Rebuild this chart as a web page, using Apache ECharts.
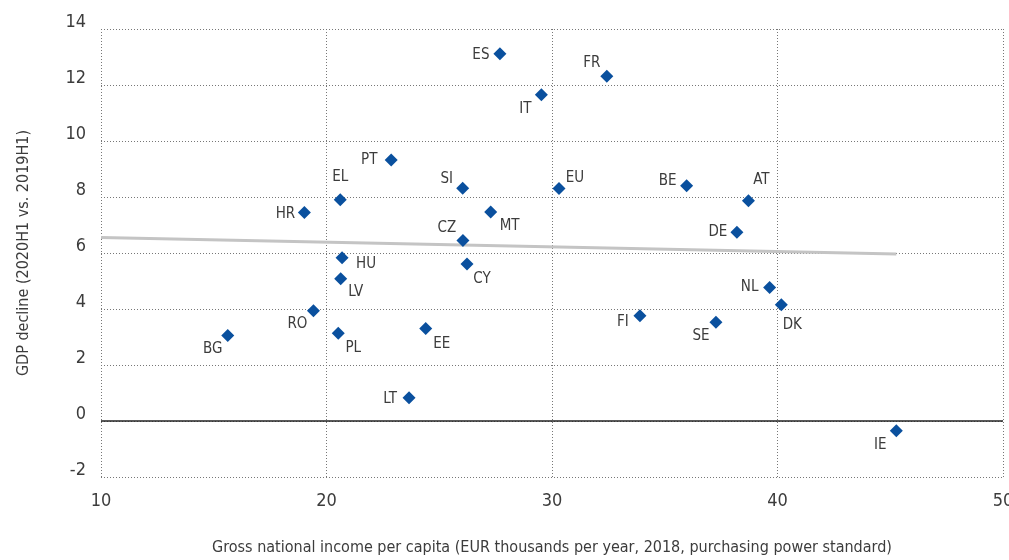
<!DOCTYPE html>
<html>
<head>
<meta charset="utf-8">
<script src="https://cdn.jsdelivr.net/npm/echarts@6/dist/echarts.min.js"></script>
<style>
html,body{margin:0;padding:0;background:#fff;overflow:hidden;}
#chart{width:1009px;height:560px;}
</style>
</head>
<body>
<div id="chart"></div>
<script>
// ---- data ----
const countries = ["ES","FR","IT","SI","EU","BE","AT","DE","NL","DK","FI","SE","PT","EL","HR","MT","CZ","HU","CY","LV","RO","BG","PL","EE","LT","IE"];
const gniPerCapita = [27.69,32.43,29.53,26.04,30.31,35.97,38.71,38.20,39.65,40.17,33.90,37.27,22.87,20.61,19.02,27.28,26.05,20.69,26.23,20.63,19.42,15.62,20.52,24.40,23.66,45.27];
const gdpDecline = [13.12,12.31,11.65,8.31,8.30,8.40,7.87,6.74,4.77,4.15,3.76,3.53,9.32,7.90,7.45,7.46,6.45,5.83,5.61,5.08,3.94,3.05,3.13,3.30,0.83,-0.35];
const trendX = [10, 45.27];
const trendY = [6.55, 5.96];
const xTicks = [10,20,30,40,50];
const yTicks = [-2,0,2,4,6,8,10,12,14];

// ---- label placement (style) ----
const labelOffsets = {
  ES:[-19,1], FR:[-15,-13], IT:[-16,14], SI:[-16,-9], EU:[16,-10], BE:[-19,-5],
  AT:[13,-21], DE:[-19,0], NL:[-20,0], DK:[11,20], FI:[-17,6], SE:[-15,14],
  PT:[-22,0], EL:[0,-23], HR:[-19,2], MT:[19,14], CZ:[-16,-12], HU:[24,6],
  CY:[15,15], LV:[15,13], RO:[-16,13], BG:[-15,14], PL:[15,15], EE:[16,16],
  LT:[-19,1], IE:[-16,14]
};

const FONT = "'DejaVu Sans Condensed','DejaVu Sans',sans-serif";
const TXT = '#3c3c3c';

const points = countries.map((c,i)=>({
  name:c,
  value:[gniPerCapita[i], gdpDecline[i]],
  label:{offset:labelOffsets[c]}
}));

const chart = echarts.init(document.getElementById('chart'), null, {renderer:'canvas', width:1009, height:560});
chart.setOption({
  animation:false,
  backgroundColor:'#fff',
  grid:{left:101, right:6, top:29, bottom:83, containLabel:false, outerBoundsMode:'none'},
  xAxis:{
    type:'value', min:xTicks[0], max:xTicks[xTicks.length-1], interval:10,
    name:'Gross national income per capita (EUR thousands per year, 2018, purchasing power standard)',
    nameLocation:'middle', nameGap:63,
    nameTextStyle:{fontFamily:FONT, fontSize:16, color:TXT},
    axisLine:{show:false}, axisTick:{show:false},
    axisLabel:{fontFamily:FONT, fontSize:18, color:TXT, margin:15},
    splitLine:{show:true, lineStyle:{type:[1,2], color:'#777', width:1}}
  },
  yAxis:{
    type:'value', min:yTicks[0], max:yTicks[yTicks.length-1], interval:2,
    name:'GDP decline (2020H1 vs. 2019H1)',
    nameLocation:'middle', nameGap:69, nameRotate:90,
    nameTextStyle:{fontFamily:FONT, fontSize:16, color:TXT},
    axisLine:{show:false}, axisTick:{show:false},
    axisLabel:{fontFamily:FONT, fontSize:18, color:TXT, margin:15, verticalAlign:'bottom', lineHeight:13},
    splitLine:{show:true, lineStyle:{type:[1,2], color:'#777', width:1}}
  },
  series:[
    {
      type:'line', data:trendX.map((x,i)=>[x,trendY[i]]),
      symbol:'none', lineStyle:{color:'#c4c4c4', width:3}, silent:true, z:2,
      markLine:{
        silent:true, symbol:['none','none'], label:{show:false},
        lineStyle:{type:'solid', color:'#222', width:1.5},
        data:[{yAxis:0}]
      }
    },
    {
      type:'scatter', data:points, symbol:'diamond', symbolSize:13,
      itemStyle:{color:'#0a509e', opacity:1}, z:5,
      label:{show:true, position:'inside', formatter:'{b}', fontFamily:FONT, fontSize:15, color:TXT}
    }
  ]
});
</script>
</body>
</html>
